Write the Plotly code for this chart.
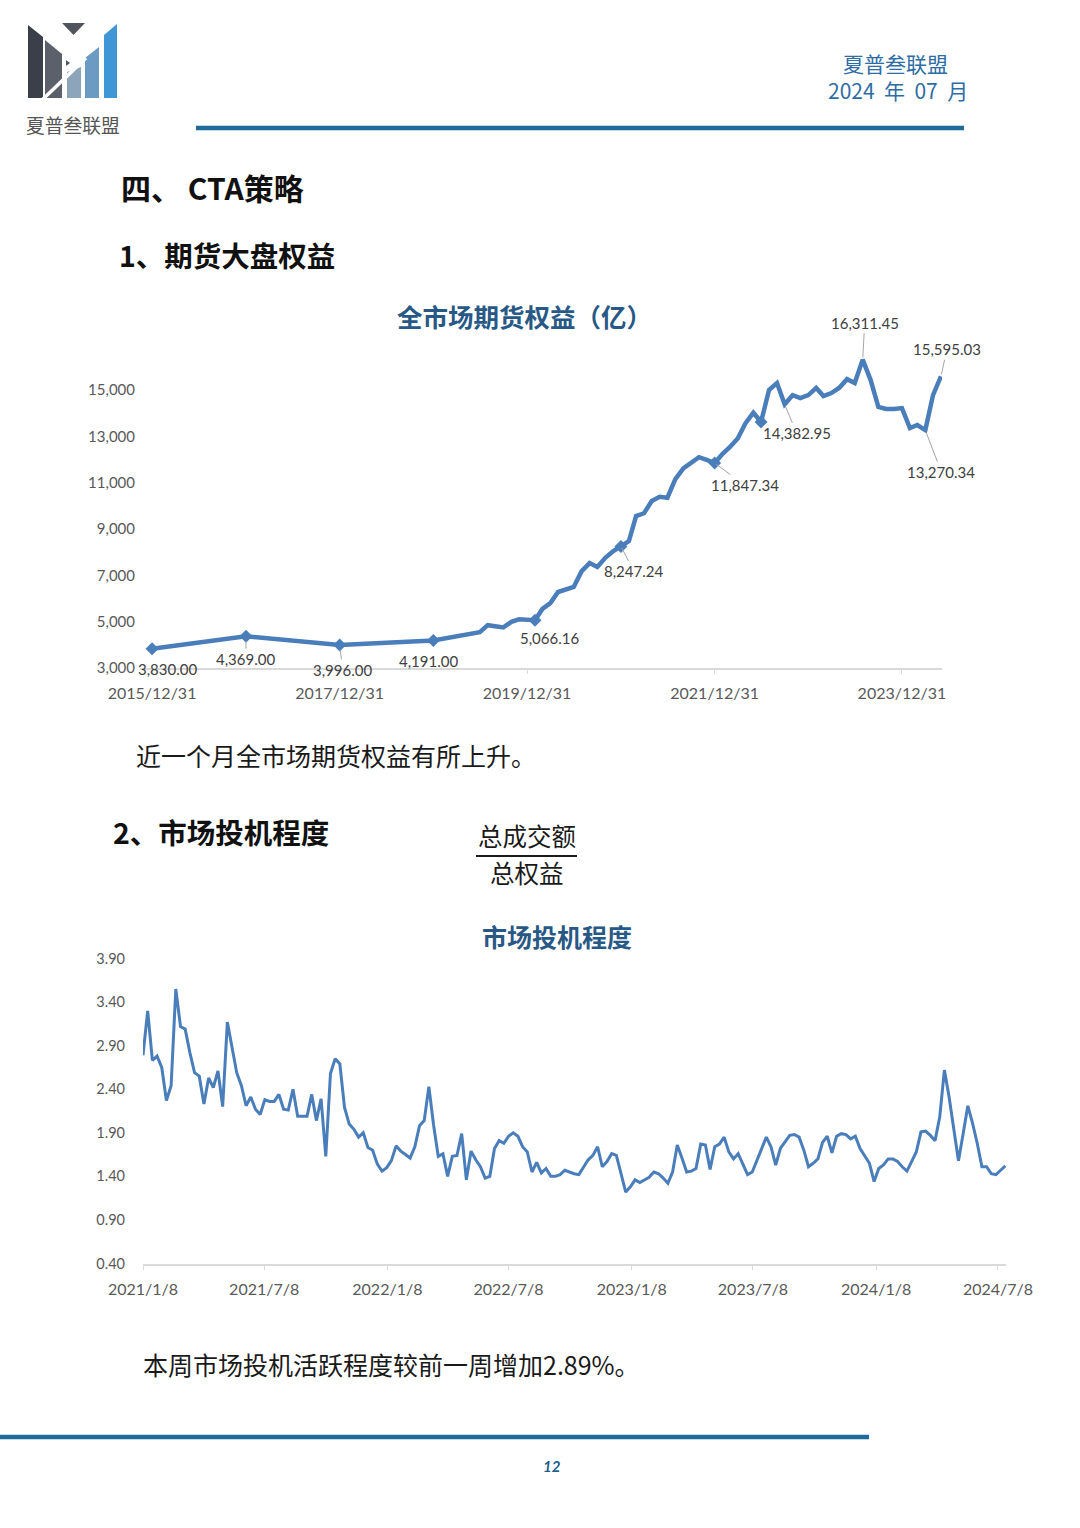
import plotly.graph_objects as go
import pandas as pd

W, H = 1080, 1528

# ---------------- Chart 1: 全市场期货权益（亿） ----------------
equity_dates = [
    "2015-12-31", "2016-12-31", "2017-12-31", "2018-12-31",
    "2019-06-30", "2019-07-31", "2019-09-30", "2019-10-31", "2019-11-30",
    "2020-01-31", "2020-02-29", "2020-03-31", "2020-04-30", "2020-05-31", "2020-06-30",
    "2020-07-31", "2020-08-31", "2020-09-30", "2020-10-31", "2020-11-30", "2020-12-31",
    "2021-01-31", "2021-02-28", "2021-03-31", "2021-04-30", "2021-05-31", "2021-06-30",
    "2021-07-31", "2021-08-31", "2021-09-30", "2021-10-31", "2021-11-30", "2021-12-31",
    "2022-01-31", "2022-02-28", "2022-03-31", "2022-04-30", "2022-05-31", "2022-06-30",
    "2022-07-31", "2022-08-31", "2022-09-30", "2022-10-31", "2022-11-30", "2022-12-31",
    "2023-01-31", "2023-02-28", "2023-03-31", "2023-04-30", "2023-05-31", "2023-06-30",
    "2023-07-31", "2023-08-31", "2023-09-30", "2023-10-31", "2023-11-30", "2023-12-31",
    "2024-01-31", "2024-02-29", "2024-03-31", "2024-04-30", "2024-05-31",
]
equity_values = [
    3830.00, 4369.00, 3996.00, 4191.00,
    4550, 4850, 4750, 4990, 5100,
    5066.16, 5550, 5800, 6280, 6410, 6500,
    7180, 7530, 7360, 7760, 8040, 8247.24,
    8480, 9560, 9680, 10210, 10390, 10350,
    11150, 11620, 11870, 12100, 11980, 11847.34,
    12250, 12530, 12910, 13560, 14020, 13620,
    15000, 15300, 14382.95, 14780, 14650, 14780,
    15090, 14740, 14870, 15090, 15470, 15300,
    16311.45, 15430, 14270, 14180, 14180, 14220,
    13360, 13490, 13270.34, 14780, 15595.03,
]
equity_marker_dates = ["2015-12-31", "2016-12-31", "2017-12-31", "2018-12-31",
                       "2020-01-31", "2020-12-31", "2021-12-31", "2022-06-30"]
equity_label_dates = ["2015-12-31", "2016-12-31", "2017-12-31", "2018-12-31",
                      "2020-01-31", "2020-12-31", "2021-12-31", "2022-09-30",
                      "2023-07-31", "2024-05-31", "2024-03-31"]
equity_tick_dates = ["2015-12-31", "2017-12-31", "2019-12-31", "2021-12-31", "2023-12-31"]
equity_tick_values = [3000, 5000, 7000, 9000, 11000, 13000, 15000]

# ---------------- Chart 2: 市场投机程度 (weekly) ----------------
spec_start = "2021-01-08"
spec_values = [
    2.79, 3.30, 2.73, 2.78, 2.65, 2.27, 2.44, 3.55, 3.12, 3.09,
    2.82, 2.59, 2.55, 2.23, 2.53, 2.42, 2.61, 2.20, 3.17, 2.90,
    2.59, 2.44, 2.21, 2.31, 2.17, 2.11, 2.28, 2.26, 2.26, 2.34,
    2.17, 2.16, 2.40, 2.09, 2.09, 2.09, 2.34, 2.04, 2.29, 1.63,
    2.58, 2.75, 2.69, 2.19, 2.00, 1.94, 1.85, 1.90, 1.73, 1.70,
    1.54, 1.46, 1.50, 1.58, 1.75, 1.69, 1.65, 1.61, 1.74, 1.98,
    2.04, 2.43, 1.99, 1.63, 1.66, 1.40, 1.63, 1.64, 1.89, 1.36,
    1.69, 1.59, 1.51, 1.38, 1.40, 1.72, 1.81, 1.78, 1.86, 1.90,
    1.86, 1.74, 1.68, 1.45, 1.56, 1.44, 1.49, 1.40, 1.40, 1.42,
    1.47, 1.45, 1.43, 1.42, 1.51, 1.59, 1.64, 1.74, 1.51, 1.57,
    1.66, 1.64, 1.43, 1.22, 1.28, 1.36, 1.33, 1.36, 1.39, 1.45,
    1.43, 1.38, 1.32, 1.45, 1.76, 1.61, 1.45, 1.46, 1.49, 1.77,
    1.76, 1.48, 1.74, 1.77, 1.85, 1.68, 1.60, 1.66, 1.53, 1.42,
    1.45, 1.59, 1.72, 1.85, 1.74, 1.53, 1.72, 1.79, 1.87, 1.88,
    1.85, 1.70, 1.51, 1.55, 1.60, 1.79, 1.86, 1.67, 1.86, 1.89,
    1.88, 1.83, 1.86, 1.72, 1.63, 1.55, 1.34, 1.49, 1.53, 1.60,
    1.60, 1.57, 1.51, 1.46, 1.57, 1.68, 1.91, 1.92, 1.87, 1.81,
    2.08, 2.62, 2.31, 1.95, 1.58, 1.89, 2.21, 2.01, 1.78, 1.51,
    1.51, 1.43, 1.42, 1.47, 1.52,
]
spec_dates = pd.date_range(start=spec_start, periods=len(spec_values), freq="7D")
spec_tick_dates = ["2021-01-08", "2021-07-08", "2022-01-08", "2022-07-08",
                   "2023-01-08", "2023-07-08", "2024-01-08", "2024-07-08"]
spec_tick_values = [0.40, 0.90, 1.40, 1.90, 2.40, 2.90, 3.40, 3.90]

# ---------------- Page texts ----------------
brand = "夏普叁联盟"
header_date = "2024  年  07  月"
section_title = "四、 CTA策略"
sub1_title = "1、期货大盘权益"
chart1_title = "全市场期货权益（亿）"
chart1_note = "近一个月全市场期货权益有所上升。"
sub2_title = "2、市场投机程度"
frac_num = "总成交额"
frac_den = "总权益"
chart2_title = "市场投机程度"
chart2_note = "本周市场投机活跃程度较前一周增加2.89%。"
page_no = "12"

# ---------------- helpers (page pixel -> paper) ----------------
def px(x):
    return x / W


def py(y):
    return 1 - y / H


def poly(points):
    s = "M " + " L ".join(f"{px(a):.5f},{py(b):.5f}" for a, b in points) + " Z"
    return s


LINE_BLUE = "#4A7EBB"
TICK_GRAY = "#595959"
AXIS_GRAY = "#D9D9D9"
TITLE_BLUE = "#285885"
RULE_BLUE = "#1D6A9B"
CJK = "Noto Sans CJK SC"
NUM = "Lato"

fig = go.Figure()

# chart 1 line + markers
fig.add_trace(go.Scatter(
    x=equity_dates, y=equity_values, mode="lines",
    line=dict(color=LINE_BLUE, width=4.5), xaxis="x", yaxis="y",
    hoverinfo="skip"))
eq_map = dict(zip(equity_dates, equity_values))
fig.add_trace(go.Scatter(
    x=equity_marker_dates, y=[eq_map[d] for d in equity_marker_dates],
    mode="markers", marker=dict(symbol="diamond", size=10, color=LINE_BLUE),
    xaxis="x", yaxis="y", hoverinfo="skip"))

# chart 2 line
fig.add_trace(go.Scatter(
    x=spec_dates, y=spec_values, mode="lines",
    line=dict(color=LINE_BLUE, width=3), xaxis="x2", yaxis="y2",
    hoverinfo="skip"))

# chart geometry (page pixels)
c1_left, c1_right, c1_bottom, c1_top = 140, 942, 668, 343.7
c2_left, c2_right, c2_bottom, c2_top = 143, 1006, 1263.5, 958.5

fig.update_layout(
    width=W, height=H, margin=dict(l=0, r=0, t=0, b=0, pad=0, autoexpand=False),
    paper_bgcolor="white", plot_bgcolor="white", showlegend=False,
    xaxis=dict(
        domain=[px(c1_left), px(c1_right)], anchor="y", type="date", automargin=False,
        range=["2015-11-14", "2024-06-04"],
        tickmode="array", tickvals=equity_tick_dates,
        ticktext=[d.replace("-", "/") for d in equity_tick_dates],
        showgrid=False, zeroline=False, showline=True, linecolor=AXIS_GRAY, linewidth=1.5,
        ticks="outside", ticklen=4, tickcolor=AXIS_GRAY, tickwidth=1,
        tickfont=dict(family=NUM, size=16, color=TICK_GRAY), ticklabelstandoff=6),
    yaxis=dict(
        domain=[py(c1_bottom), py(c1_top)], anchor="x", range=[3000, 17000], automargin=False,
        tickmode="array", tickvals=equity_tick_values, tickformat=",",
        showgrid=False, zeroline=False, showline=False, ticks="",
        tickfont=dict(family=NUM, size=15, color=TICK_GRAY), ticklabelstandoff=4),
    xaxis2=dict(
        domain=[px(c2_left), px(c2_right)], anchor="y2", type="date", automargin=False,
        range=[spec_start, "2024-07-20"],
        tickmode="array", tickvals=spec_tick_dates,
        ticktext=[f"{int(d[:4])}/{int(d[5:7])}/{int(d[8:])}" for d in spec_tick_dates],
        showgrid=False, zeroline=False, showline=True, linecolor=AXIS_GRAY, linewidth=1.5,
        ticks="outside", ticklen=5, tickcolor=AXIS_GRAY, tickwidth=1,
        tickfont=dict(family=NUM, size=16, color=TICK_GRAY), ticklabelstandoff=6),
    yaxis2=dict(
        domain=[py(c2_bottom), py(c2_top)], anchor="x2", range=[0.4, 3.9], automargin=False,
        tickmode="array", tickvals=spec_tick_values, tickformat=".2f",
        showgrid=False, zeroline=False, showline=False, ticks="",
        tickfont=dict(family=NUM, size=14.5, color=TICK_GRAY), ticklabelstandoff=17),
)

annotations = []

# data labels on chart 1: (dx, dy, leader line)
label_offsets = {
    "2015-12-31": (15, 20, False),
    "2016-12-31": (0, 23, True),
    "2017-12-31": (3, 25, True),
    "2018-12-31": (-5, 21, False),
    "2020-01-31": (15, 18, False),
    "2020-12-31": (13, 25, True),
    "2021-12-31": (30, 22, True),
    "2022-09-30": (12, 29, True),
    "2023-07-31": (2, -37, True),
    "2024-05-31": (6, -27, True),
    "2024-03-31": (16, 42, True),
}
for d in equity_label_dates:
    v = eq_map[d]
    dx, dy, arrow = label_offsets[d]
    base = dict(x=d, y=v, xref="x", yref="y", text=f"{v:,.2f}",
                font=dict(family=NUM, size=15, color="#404040"))
    if arrow:
        base.update(showarrow=True, ax=dx, ay=dy, arrowhead=0, arrowwidth=1,
                    arrowcolor="#A6A6A6", standoff=5 if d < "2019" else 2)
    else:
        base.update(showarrow=False, xshift=dx, yshift=-dy)
    annotations.append(base)


def text(t, x, y, size, color="#111111", anchor="center", bold=False, family=CJK, italic=False):
    s = t
    if bold:
        s = f"<b>{s}</b>"
    if italic:
        s = f"<i>{s}</i>"
    annotations.append(dict(text=s, x=px(x), y=py(y), xref="paper", yref="paper",
                            xanchor=anchor, yanchor="middle", showarrow=False,
                            font=dict(family=family, size=size, color=color)))


text(brand, 895, 63, 21, color="#2E6DA4")
text(header_date, 898, 90, 21, color="#2E6DA4")
text(brand, 73, 124, 18.8, color="#555555")
text(section_title, 119, 187, 30, bold=True, anchor="left")
text(sub1_title, 117, 254, 28.5, bold=True, anchor="left")
text(chart1_title, 524, 315, 25.5, color=TITLE_BLUE, bold=True)
text(chart1_note, 134, 755, 25, anchor="left", color="#1A1A1A")
text(sub2_title, 111, 831, 28.5, bold=True, anchor="left")
text(frac_num, 527, 835, 24.5, color="#1A1A1A")
text(frac_den, 527, 872, 24.5, color="#1A1A1A")
text(chart2_title, 557, 936, 25, color=TITLE_BLUE, bold=True)
text(chart2_note, 141, 1364, 25, anchor="left", color="#1A1A1A")
text(page_no, 552, 1466, 15, color="#1F5E8C", bold=True, italic=True, family=NUM)

fig.update_layout(annotations=annotations)

shapes = []
# rules
shapes.append(dict(type="line", xref="paper", yref="paper", x0=px(196), x1=px(964),
                   y0=py(128), y1=py(128), line=dict(color=RULE_BLUE, width=4.5)))
shapes.append(dict(type="line", xref="paper", yref="paper", x0=px(0), x1=px(869),
                   y0=py(1437), y1=py(1437), line=dict(color=RULE_BLUE, width=4.5)))
# fraction bar
shapes.append(dict(type="line", xref="paper", yref="paper", x0=px(476), x1=px(577),
                   y0=py(856), y1=py(856), line=dict(color="#1A1A1A", width=2)))

# logo
logo_parts = [
    ([(28, 25), (43, 37), (43, 98), (28, 98)], "#3B3F4A"),
    ([(45, 40), (62, 54), (62, 98), (45, 98)], "#5C606A"),
    ([(62, 23), (85, 23), (73.5, 35)], "#50545D"),
    ([(67, 72), (81, 67), (81, 98), (67, 98)], "#8DA5BA"),
    ([(85, 58), (99, 47), (99, 98), (85, 98)], "#6B9AC2"),
    ([(104, 35), (117, 24), (117, 98), (104, 98)], "#3E96D6"),
]
for pts, col in logo_parts:
    shapes.append(dict(type="path", xref="paper", yref="paper", path=poly(pts),
                       fillcolor=col, line=dict(width=0)))
shapes.append(dict(type="line", xref="paper", yref="paper", x0=px(42), y0=py(100),
                   x1=px(86), y1=py(58), line=dict(color="white", width=3.5)))
shapes.append(dict(type="path", xref="paper", yref="paper",
                   path=poly([(66, 60), (70, 63), (66, 66)]), fillcolor="#50545D",
                   line=dict(width=0)))

fig.update_layout(shapes=shapes)

fig.write_html("out.html")
